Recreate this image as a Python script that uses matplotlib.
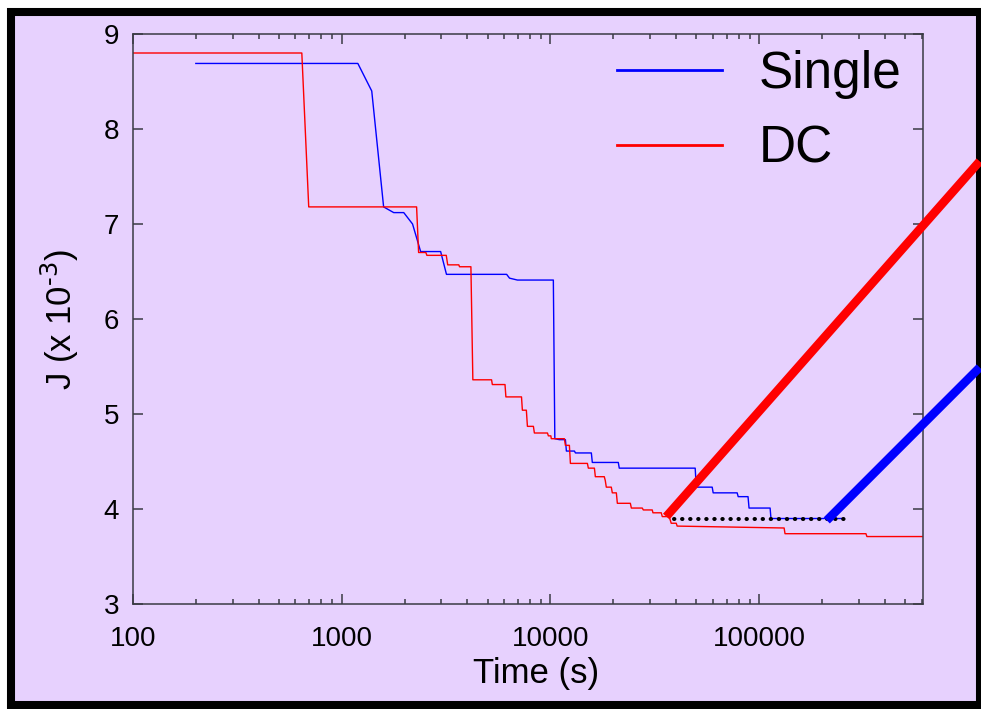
import matplotlib.pyplot as plt
from matplotlib.lines import Line2D
from matplotlib.patches import Rectangle
from matplotlib.ticker import FixedLocator, FixedFormatter, LogLocator, NullFormatter

plt.rcParams['font.family'] = ['Liberation Sans', 'DejaVu Sans']
plt.rcParams['mathtext.default'] = 'regular'

# best J found so far vs. elapsed time, single search
single_t = [200, 1195, 1393, 1588, 1775, 1983, 2185, 2389, 2979, 3177, 6170, 6370,
            6950, 10330, 10500, 11040, 11800, 11930, 13040, 13180, 15710, 15880,
            21150, 21380, 49400, 50000, 59600, 60250, 78500, 79400, 88500, 89500,
            112900, 114000, 249000]
single_j = [8.69, 8.69, 8.40, 7.18, 7.12, 7.12, 7.00, 6.71, 6.71, 6.47, 6.47, 6.43,
            6.41, 6.41, 4.74, 4.73, 4.73, 4.61, 4.61, 4.59, 4.59, 4.49,
            4.49, 4.43, 4.43, 4.23, 4.23, 4.17, 4.17, 4.13, 4.13, 4.01,
            4.01, 3.90, 3.90]

# same for the DC run
dc_t = [100, 644, 695, 2285, 2336, 2530, 2560, 3170, 3220, 3640, 3670, 4160, 4250,
        5225, 5270, 6060, 6120, 7270, 7340, 7670, 7760, 8290, 8380, 9680, 9780,
        10050, 10100, 11670, 11800, 12330, 12470, 15040, 15200, 16250, 16420,
        18120, 18320, 18530, 19580, 19800, 20700, 20930, 24160, 24430, 27560,
        27870, 30760, 31000, 33980, 34360, 37080, 37920, 40080, 40500, 131800,
        133100, 325000, 328600, 610000]
dc_j = [8.80, 8.80, 7.18, 7.18, 6.70, 6.70, 6.67, 6.67, 6.57, 6.57, 6.55, 6.55, 5.36,
        5.36, 5.31, 5.31, 5.18, 5.18, 5.04, 5.04, 4.87, 4.87, 4.80, 4.80, 4.77,
        4.77, 4.74, 4.74, 4.67, 4.67, 4.48, 4.48, 4.43, 4.43, 4.34,
        4.34, 4.30, 4.23, 4.23, 4.17, 4.17, 4.06, 4.06, 4.01, 4.01,
        3.99, 3.99, 3.96, 3.96, 3.92, 3.92, 3.85, 3.85, 3.82, 3.80,
        3.74, 3.74, 3.71, 3.71]

# common target level and the arrows from where each run reaches it
target_j = 3.9
target_t = [39000, 275000]
dc_mark_t = [35900, 1.14e6]
dc_mark_j = [3.92, 7.66]
single_mark_t = [211000, 1.14e6]
single_mark_j = [3.88, 5.49]

xticks = [100, 1000, 10000, 100000]
xlabels = ['100', '1000', '10000', '100000']
yticks = [3, 4, 5, 6, 7, 8, 9]

bg = '#E7D1FE'
spine = '#3a3a44'

fig = plt.figure(figsize=(9.81, 7.09), dpi=100, facecolor='white')
W, H = 981, 709
frame = Rectangle((11 / W, 4.5 / H), (980 - 11) / W, (697 - 4.5) / H,
                  transform=fig.transFigure, facecolor=bg, edgecolor='black',
                  linewidth=5.8, zorder=-5)
fig.add_artist(frame)

ax = fig.add_axes([133 / W, 105 / H, 790 / W, 570 / H])
ax.set_facecolor('none')
ax.set_xscale('log')
ax.set_xlim(100, 610000)
ax.set_ylim(3, 9)

ax.plot(single_t, single_j, color='blue', lw=1.0)
ax.plot(dc_t, dc_j, color='red', lw=1.0)

ax.plot(target_t, [target_j, target_j], color='black', lw=2.9,
        linestyle=(0, (0.1, 1.9)), dash_capstyle='round', zorder=4)
ax.plot(dc_mark_t, dc_mark_j, color='red', lw=6.2, clip_on=False,
        solid_capstyle='butt', zorder=5)
ax.plot(single_mark_t, single_mark_j, color='blue', lw=6.2, clip_on=False,
        solid_capstyle='butt', zorder=5)

ax.xaxis.set_major_locator(FixedLocator(xticks))
ax.xaxis.set_major_formatter(FixedFormatter(xlabels))
ax.xaxis.set_minor_locator(LogLocator(base=10, subs=range(2, 10), numticks=20))
ax.xaxis.set_minor_formatter(NullFormatter())
ax.set_yticks(yticks)

ax.tick_params(which='both', direction='in', top=True, right=True,
               color=spine, width=1.1)
ax.tick_params(which='major', length=7.2)
ax.tick_params(which='minor', length=3.6)
ax.tick_params(axis='x', labelsize=20, pad=16)
ax.tick_params(axis='y', labelsize=20, pad=10)
for s in ax.spines.values():
    s.set_color(spine)
    s.set_linewidth(1.1)

ax.set_xlabel('Time (s)', fontsize=25)
ax.xaxis.set_label_coords(0.51, -0.093)
ax.set_ylabel(r'J (x 10$^{\text{-3}}$)', fontsize=25)
ax.yaxis.set_label_coords(-0.066, 0.5)

handles = [Line2D([], [], color='blue', lw=2), Line2D([], [], color='red', lw=2)]
ax.legend(handles, ['Single', 'DC'], fontsize=37, frameon=False,
          loc='upper left', bbox_to_anchor=(617 / W, 1 - 50 / H),
          bbox_transform=fig.transFigure, borderaxespad=0, borderpad=0,
          handlelength=2.04, handletextpad=0.72, labelspacing=0.5)

fig.savefig('out.png', dpi=100, facecolor='white')
